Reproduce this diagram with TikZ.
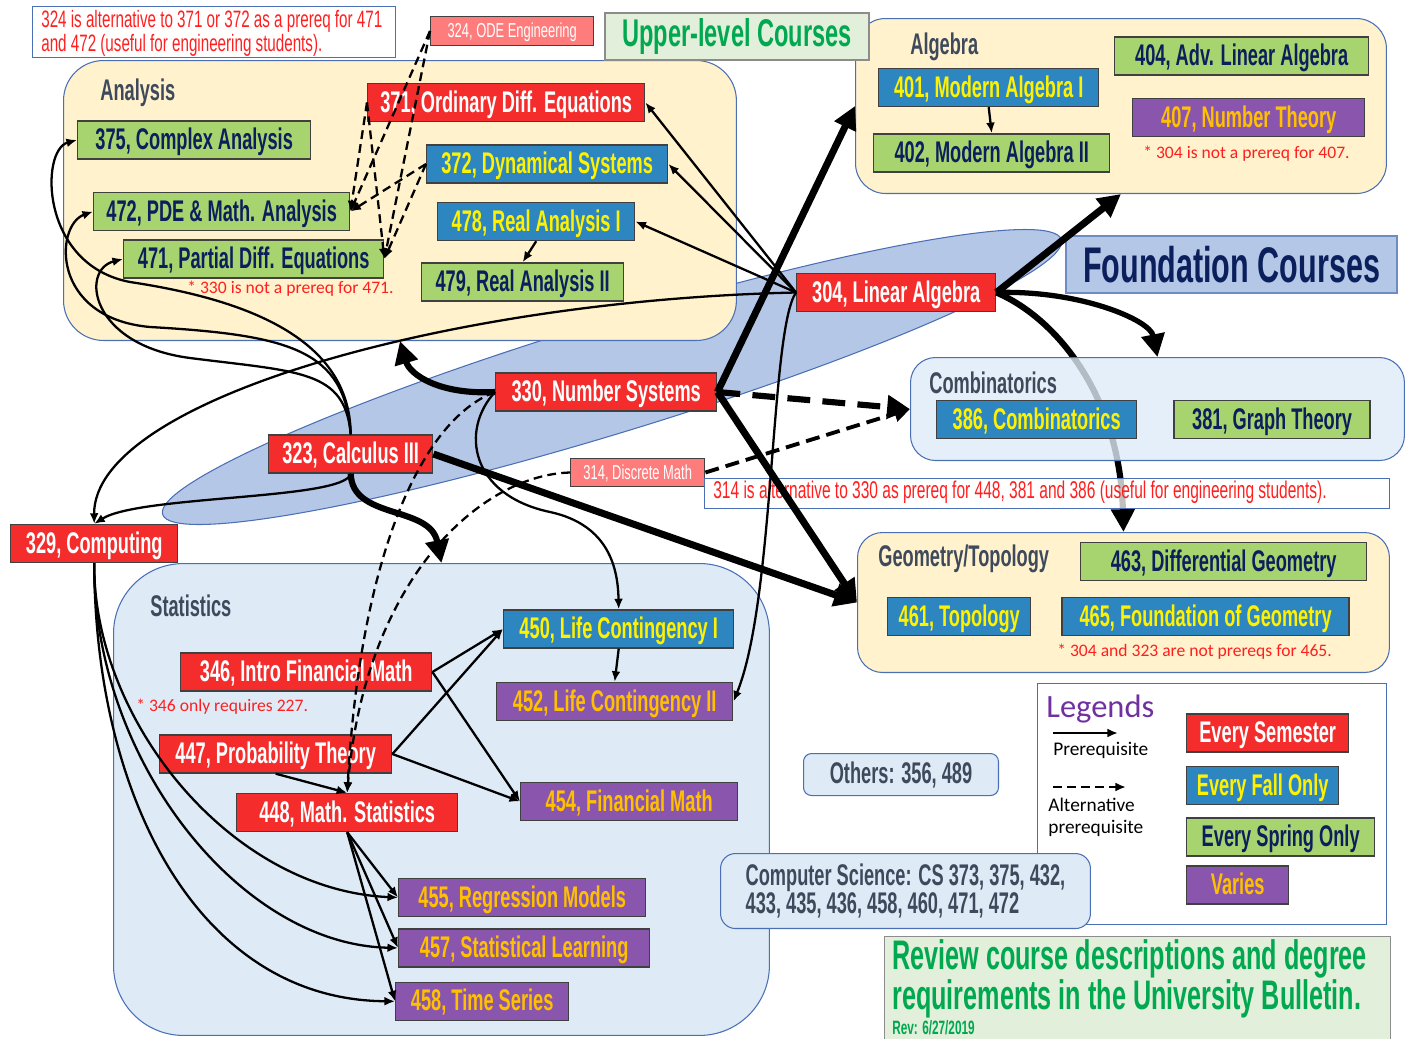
\documentclass[tikz,border=0pt]{standalone}
\usepackage{fontspec}
\setmainfont{Liberation Sans}
\newfontfamily\cond[FakeStretch=0.64]{Liberation Sans}
\newfontfamily\condb[FakeStretch=0.61]{Liberation Sans}
\newfontfamily\calib{Carlito}
\usetikzlibrary{arrows.meta,positioning}

\definecolor{semred}{HTML}{F42C2C}
\definecolor{fallblue}{HTML}{2E86C1}
\definecolor{springgreen}{HTML}{A8D46F}
\definecolor{varpurple}{HTML}{8A55AD}
\definecolor{salmon}{HTML}{FF7C7C}
\definecolor{navy}{HTML}{0B1F5C}
\definecolor{gold}{HTML}{FFC000}
\definecolor{cream}{HTML}{FFF2CC}
\definecolor{paleblue}{HTML}{DEEBF7}
\definecolor{bandblue}{HTML}{B4C7E7}
\definecolor{edgeblue}{HTML}{4A6FB5}
\definecolor{slate}{HTML}{3E4A5C}
\definecolor{palegreen}{HTML}{E2EFDA}
\definecolor{brightgreen}{HTML}{00A84F}
\definecolor{legpurple}{HTML}{7030A0}
\definecolor{notered}{HTML}{FF1F1F}

\tikzset{
  wd/.code={\pgfmathsetlengthmacro\boxw{#1*0.02cm}\tikzset{minimum width/.expand once=\boxw}},
  course/.style={draw=black!75, line width=0.8pt, anchor=west, minimum height=0.76cm,
    inner sep=0pt, text height=12pt, text depth=1pt, font=\condb\bfseries\fontsize{17}{20}\selectfont},
  sem/.style={course, fill=semred, text=white},
  fall/.style={course, fill=fallblue, text=yellow},
  spring/.style={course, fill=springgreen, text=navy},
  varies/.style={course, fill=varpurple, text=gold},
  eng/.style={course, fill=salmon, text=white, minimum height=0.57cm, text height=8pt,
    text depth=0.5pt, font=\cond\fontsize{11.5}{13}\selectfont},
  grp/.style={draw=edgeblue, line width=0.6pt, anchor=north west, inner sep=0pt},
  grplabel/.style={anchor=west, inner sep=0pt, text=slate, font=\condb\bfseries\fontsize{17}{20}\selectfont},
  remark/.style={anchor=west, inner sep=0pt, text=notered, font=\calib\fontsize{10}{12}\selectfont},
  legtext/.style={anchor=west, inner sep=0pt, font=\calib\fontsize{11}{13}\selectfont},
  arr/.style={line width=1.3pt, -{Latex[length=6pt,width=5pt]}},
  altarr/.style={arr, dash pattern=on 5pt off 3pt},
  heavy/.style={line width=4pt, -{Triangle[length=13pt,width=13pt]}},
  heavyalt/.style={heavy, line width=3.5pt, dash pattern=on 13pt off 7pt},
  midalt/.style={line width=2.2pt, dash pattern=on 8pt off 4pt, -{Triangle[length=9pt,width=9pt]}},
}

\begin{document}
\begin{tikzpicture}[x=0.02cm, y=-0.02cm, node distance=0.24cm]
\useasboundingbox (0,0) rectangle (1413,1038);

% foundation band
\filldraw[fill=bandblue, draw=edgeblue, line width=0.6pt, rotate around={17:(612,377)}]
  (612,377) ellipse [x radius=9.4cm, y radius=1.12cm];

% groups
\node[grp, fill=cream, minimum width=13.46cm, minimum height=5.6cm, rounded corners=0.8cm] (gana) at (63,60) {};
\node[grp, fill=cream, minimum width=10.62cm, minimum height=3.5cm, rounded corners=0.6cm] (galg) at (855,18) {};
\node[grp, fill=cream, minimum width=10.64cm, minimum height=2.8cm, rounded corners=0.5cm] (ggeo) at (857,532) {};
\node[grp, fill=paleblue, minimum width=13.12cm, minimum height=9.44cm, rounded corners=1.4cm] (gstat) at (113,563) {};
\node[grplabel] (lana) at (100,93) {Analysis};
\node[grplabel] (lalg) at (910,47) {Algebra};
\node[grplabel] (lgeo) at (878,559) {Geometry/Topology};
\node[grplabel] (lstat) at (150,606) {Statistics};

% headers and notes
\node[draw=edgeblue, line width=0.6pt, fill=white, anchor=north west, minimum width=7.26cm, minimum height=1.02cm,
  inner sep=0pt] (note324) at (32,6) {};
\node[anchor=north west, inner sep=0pt, align=left, text=notered, font=\cond\fontsize{13.5}{12.5}\selectfont] (t324) at (41,10)
  {324 is alternative to 371 or 372 as a prereq for 471\\and 472 (useful for engineering students).};
\node[draw=black!45, line width=0.8pt, fill=palegreen, text=brightgreen, minimum width=5.28cm, minimum height=0.94cm,
  inner sep=0pt, font=\condb\bfseries\fontsize{22}{26}\selectfont] (upper) at (737,36.5) {Upper-level Courses};
\node[draw=edgeblue!80, line width=0.8pt, fill=bandblue, text=navy, minimum width=6.62cm, minimum height=1.14cm,
  inner sep=0pt, font=\condb\bfseries\fontsize{28.5}{34}\selectfont] (found) at (1231.5,264.5) {Foundation Courses};

% analysis
\node[sem, wd=277] (c371) at (367,102.5) {371, Ordinary Diff. Equations};
\node[spring, wd=233] (c375) at (77,140) {375, Complex Analysis};
\node[fall, wd=241] (c372) at (426,164) {372, Dynamical Systems};
\node[spring, wd=256] (c472) at (93,211.5) {472, PDE \& Math. Analysis};
\node[fall, wd=197] (c478) at (437,221.5) {478, Real Analysis I};
\node[spring, wd=260] (c471) at (123,259) {471, Partial Diff. Equations};
\node[spring, wd=202, below=0.42cm of c478.south west, anchor=north west, xshift=-0.32cm] (c479) {479, Real Analysis II};
\node[remark] (n471) at (187,289) {* 330 is not a prereq for 471.};
\node[eng, wd=163] (c324) at (430,31) {324, ODE Engineering};

% algebra
\node[fall, wd=220] (c401) at (878,87.5) {401, Modern Algebra I};
\node[spring, wd=236, below=0.52cm of c401.south west, anchor=north west, xshift=-0.1cm] (c402) {402, Modern Algebra II};
\node[spring, wd=254] (c404) at (1114,56) {404, Adv. Linear Algebra};
\node[varies, wd=232] (c407) at (1132,117.5) {407, Number Theory};
\node[remark] (n407) at (1143,154) {* 304 is not a prereq for 407.};

% foundation
\node[sem, wd=199] (c304) at (796,292.5) {304, Linear Algebra};
\node[sem, wd=221] (c330) at (495,392) {330, Number Systems};
\node[sem, wd=164] (c323) at (268,454) {323, Calculus III};
\node[sem, wd=167] (c329) at (10,543.5) {329, Computing};
\node[eng, wd=134] (c314) at (570,472.5) {314, Discrete Math};

% geometry / topology
\node[spring, wd=286] (c463) at (1080,561.5) {463, Differential Geometry};
\node[fall, wd=143] (c461) at (887,616.5) {461, Topology};
\node[fall, wd=287, right=0.6cm of c461] (c465) {465, Foundation of Geometry};
\node[remark] (n465) at (1057,652) {* 304 and 323 are not prereqs for 465.};

% statistics
\node[fall, wd=230] (c450) at (503,629) {450, Life Contingency I};
\node[sem, wd=251] (c346) at (180,672) {346, Intro Financial Math};
\node[varies, wd=236] (c452) at (496,701.5) {452, Life Contingency II};
\node[remark] (n346) at (136,707) {* 346 only requires 227.};
\node[sem, wd=232] (c447) at (159,754) {447, Probability Theory};
\node[varies, wd=217] (c454) at (520,801.5) {454, Financial Math};
\node[sem, wd=221] (c448) at (236,812.5) {448, Math. Statistics};
\node[varies, wd=247] (c455) at (398,897.5) {455, Regression Models};
\node[varies, wd=251, below=0.22cm of c455.south west, anchor=north west] (c457) {457, Statistical Learning};
\node[varies, wd=173, below=0.28cm of c457.south west, anchor=north west, xshift=-0.06cm] (c458) {458, Time Series};

% others, legend, review
\node[draw=edgeblue, line width=0.6pt, fill=paleblue, anchor=north west, minimum width=3.9cm, minimum height=0.84cm,
  rounded corners=0.16cm, inner sep=0pt, text=slate, font=\condb\bfseries\fontsize{17}{20}\selectfont] (others) at (803,753) {Others: 356, 489};
\node[draw=edgeblue, line width=0.6pt, fill=white, anchor=north west, minimum width=6.98cm, minimum height=4.82cm,
  inner sep=0pt] (legend) at (1037,683) {};
\node[anchor=west, inner sep=0pt, text=legpurple, font=\calib\fontsize{18.5}{22}\selectfont] (legtitle) at (1046,709) {Legends};
\coordinate (lg1) at (1053,733);
\coordinate (lg2) at (1118,733);
\draw[arr] (lg1) -- (lg2);
\node[legtext] (lgpre) at (1053,750) {Prerequisite};
\coordinate (lg3) at (1053,787);
\coordinate (lg4) at (1126,787);
\draw[altarr] (lg3) -- (lg4);
\node[legtext] (lgalt) at (1048,805) {Alternative};
\node[legtext] (lgalt2) at (1048,828) {prerequisite};
\node[sem, wd=162] (lsem) at (1186,733) {Every Semester};
\node[fall, wd=152, below=0.26cm of lsem.south west, anchor=north west] (lfall) {Every Fall Only};
\node[spring, wd=188, below=0.24cm of lfall.south west, anchor=north west] (lspring) {Every Spring Only};
\node[varies, wd=102, below=0.18cm of lspring.south west, anchor=north west] (lvar) {Varies};
\node[draw=edgeblue, line width=0.6pt, fill=paleblue, anchor=north west, minimum width=7.4cm, minimum height=1.5cm,
  rounded corners=0.3cm, inner sep=0pt, align=left, text=slate, font=\condb\bfseries\fontsize{17}{16}\selectfont] (cs) at (720,853)
  {Computer Science: CS 373, 375, 432,\\433, 435, 436, 458, 460, 471, 472};
\node[draw=black!45, line width=0.8pt, fill=palegreen, anchor=north west, minimum width=10.12cm, minimum height=2.4cm,
  inner sep=0pt] (review) at (884,936) {};
\node[anchor=north west, inner sep=0pt, align=left, text=brightgreen, font=\condb\bfseries\fontsize{23.5}{20.5}\selectfont] (rv) at (892,939)
  {Review course descriptions and degree\\requirements in the University Bulletin.};
\node[anchor=west, inner sep=0pt, text=brightgreen, font=\condb\bfseries\fontsize{11}{13}\selectfont] (rv3) at (892,1028) {Rev: 6/27/2019};

% 304 to geometry runs under the combinatorics box
\draw[heavy, line width=3.5pt] (c304.east) .. controls (1060,320) and (1120,400) .. (ggeo.north);

% combinatorics
\node[grp, fill=paleblue, fill opacity=0.8, minimum width=9.88cm, minimum height=2.06cm, rounded corners=0.5cm] (gcomb) at (910,357) {};
\node[grplabel] (lcomb) at (929,383) {Combinatorics};
\node[fall, wd=200] (c386) at (936,419.5) {386, Combinatorics};
\node[spring, wd=196, right=0.72cm of c386] (c381) {381, Graph Theory};

\node[draw=edgeblue, line width=0.6pt, fill=white, fill opacity=0.75, anchor=north west, minimum width=13.7cm,
  minimum height=0.6cm, inner sep=0pt] (note314) at (704,478) {};
\node[anchor=west, inner sep=0pt, text=notered, font=\cond\fontsize{13.8}{15}\selectfont] (t314) at (713,492)
  {314 is alternative to 330 as prereq for 448, 381 and 386 (useful for engineering students).};

% prerequisites
\draw[arr] (c304.west) -- (c371.east);
\draw[arr] (c304.west) -- (c372.east);
\draw[arr] (c304.west) -- (c478.east);
\draw[arr] (c304.west) .. controls (450,300) and (93,400) .. (c329.north);
\draw[arr] (c304.west) .. controls (770,330) and (775,600) .. (c452.east);
\draw[arr] (c323.south) .. controls (345,500) and (140,495) .. (c329.north);
\draw[arr] (c323.north) .. controls (350,340) and (250,300) .. (130,282) .. controls (40,265) and (40,150) .. (c375.west);
\draw[arr] (c323.north) .. controls (345,350) and (290,335) .. (150,327) .. controls (50,318) and (55,225) .. (c472.west);
\draw[arr] (c323.north) .. controls (345,370) and (300,372) .. (190,358) .. controls (90,345) and (80,270) .. (c471.west);
\draw[arr] (c330.west) .. controls (460,430) and (470,495) .. (550,512) .. controls (610,525) and (618,570) .. (c450.north);
\draw[arr] (c478.south) -- (c479.north);
\draw[arr] (c401.south) -- (c402.north);
\draw[arr] (c346.east) -- (c450.west);
\draw[arr] (c346.east) -- (c454.west);
\draw[arr] (c447.east) -- (c450.west);
\draw[arr] (c447.east) -- (c454.west);
\draw[arr] (c447.south) -- (c448.north);
\draw[arr] (c450.south) -- (c452.north);
\foreach \c in {c455,c457,c458}
  \draw[arr] (c448.south) -- (\c.west);
\draw[arr] (c329.south) .. controls (93,720) and (230,890) .. (c455.west);
\draw[arr] (c329.south) .. controls (93,760) and (240,945) .. (c457.west);
\draw[arr] (c329.south) .. controls (95,800) and (200,1000) .. (c458.west);

% alternative prerequisites
\foreach \s in {c324,c371,c372} {
  \draw[altarr] (\s.west) -- (c472.east);
  \draw[altarr] (\s.west) -- (c471.east);
}
\draw[altarr] (c314.west) .. controls (480,475) and (365,580) .. (c448.north);
\draw[altarr] (c330.west) .. controls (420,420) and (360,560) .. (c448.north);

% area prerequisites
\draw[heavy] (c330.east) -- (galg.west);
\draw[heavy] (c304.east) -- (galg.south);
\draw[heavy, line width=3pt] (c304.east) .. controls (1080,290) and (1150,320) .. (gcomb.north);
\draw[heavy] (c330.east) -- (ggeo.west);
\draw[heavy] (c323.east) -- (ggeo.west);
\draw[heavy, line width=3.5pt] (c330.west) .. controls (440,395) and (410,375) .. (gana.south);
\draw[heavy, line width=3.5pt] (c323.south) .. controls (352,520) and (430,505) .. (gstat.north);
\draw[heavyalt] (c330.east) -- (gcomb.west);
\draw[midalt] (c314.east) -- (gcomb.west);
\end{tikzpicture}
\end{document}
